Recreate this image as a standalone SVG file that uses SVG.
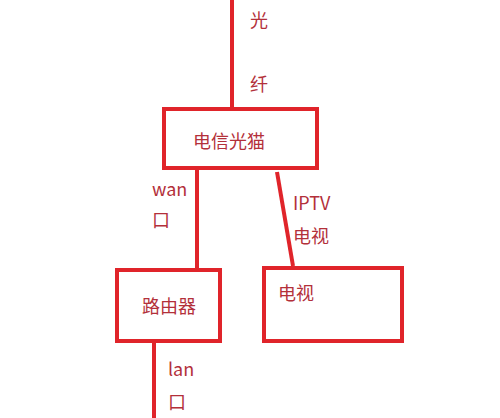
<svg xmlns="http://www.w3.org/2000/svg" width="500" height="418" viewBox="0 0 500 418">
<style>
.box{fill:none;stroke:#e0242a;stroke-width:4}
.ln{stroke:#e0242a;stroke-width:4;fill:none}
text{font-family:"Noto Sans CJK SC","Noto Sans",sans-serif;font-size:18px;fill:#b3303a}
</style>
<rect width="500" height="418" fill="#ffffff"/>
<g id="connectors">
<line class="ln" x1="232" y1="0" x2="232" y2="109"/>
<line class="ln" x1="197" y1="168" x2="197" y2="270"/>
<line class="ln" x1="277" y1="172" x2="293" y2="266"/>
<line class="ln" x1="154" y1="341" x2="154" y2="418"/>
</g>
<g id="labels">
<text x="250" y="27">光</text>
<text x="250" y="91">纤</text>
<text x="152" y="196">wan</text>
<text x="152" y="227">口</text>
<text x="293" y="210">IPTV</text>
<text x="293" y="243">电视</text>
<text x="168" y="376">lan</text>
<text x="168" y="409">口</text>
</g>
<g id="modem">
<rect class="box" x="164" y="109" width="153" height="59"/>
<text x="193" y="148">电信光猫</text>
</g>
<g id="router">
<rect class="box" x="117" y="270" width="103" height="71"/>
<text x="142" y="313">路由器</text>
</g>
<g id="tv">
<rect class="box" x="264" y="268" width="138" height="73"/>
<text x="278" y="300">电视</text>
</g>
</svg>
